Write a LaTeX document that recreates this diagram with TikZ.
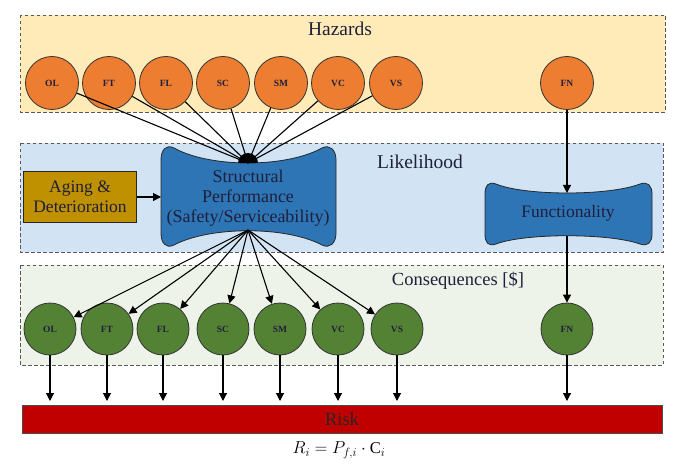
\documentclass[tikz,border=0pt]{standalone}
\usepackage{fontspec}
\setmainfont{Liberation Serif}
\usepackage{amsmath}
\usetikzlibrary{arrows.meta}
\definecolor{hzbg}{HTML}{FFEBB8}
\definecolor{lkbg}{HTML}{D2E3F3}
\definecolor{csbg}{HTML}{EEF3E9}
\definecolor{orangeC}{HTML}{ED7D31}
\definecolor{greenC}{HTML}{548235}
\definecolor{blueS}{HTML}{2E75B6}
\definecolor{agingC}{HTML}{BF9000}
\definecolor{riskC}{HTML}{C00000}
\definecolor{txtC}{HTML}{1F1F3A}
\tikzset{
  zone/.style={draw=black!65, line width=0.8pt, dash pattern=on 3.5pt off 2.5pt},
  hz/.style={circle, draw=black!80, line width=0.8pt, fill=orangeC, minimum size=53pt, inner sep=0pt, font=\fontsize{9.5}{10}\selectfont\bfseries, text=txtC},
  cs/.style={circle, draw=black!80, line width=0.8pt, fill=greenC, minimum size=52pt, inner sep=0pt, font=\fontsize{9.5}{10}\selectfont\bfseries, text=txtC},
  arr/.style={-{Triangle[length=8pt,width=8pt]}, line width=1.1pt},
  ln/.style={line width=1.1pt},
  title/.style={font=\fontsize{19.5}{22}\selectfont, text=txtC},
  shapetxt/.style={font=\fontsize{18}{20}\selectfont, text=txtC, align=center},
}
\begin{document}
\begin{tikzpicture}[x=1pt,y=-1pt]
\useasboundingbox (0,0) rectangle (676,470);
% zones
\fill[hzbg] (20,15) rectangle (665,112);
\draw[zone] (20,15) rectangle (665,112);
\fill[lkbg] (20,143) rectangle (663,252);
\draw[zone] (20,143) rectangle (663,252);
\fill[csbg] (20,265) rectangle (663,365);
\draw[zone] (20,265) rectangle (663,365);
\node[title] (tHaz) at (340,29) {Hazards};
\node[title] (tLik) at (420,162) {Likelihood};
\node[font=\fontsize{18.5}{22}\selectfont, text=txtC] (tCons) at (458,281) {Consequences [\$]};
% hazard circles
\node[hz] (hOL) at (52,83) {OL};
\node[hz] (hFT) at (109,83) {FT};
\node[hz] (hFL) at (166,83) {FL};
\node[hz] (hSC) at (223,83) {SC};
\node[hz] (hSM) at (281,83) {SM};
\node[hz] (hVC) at (338,83) {VC};
\node[hz] (hVS) at (396,83) {VS};
\node[hz] (hFN) at (567,83) {FN};
% structural performance shape
\draw[fill=blueS, draw=black!85, line width=0.8pt]
  (174,148) .. controls (210,168) and (286,168) .. (322,148)
  .. controls (330,144) and (336,150) .. (336,160)
  -- (336,233)
  .. controls (336,243) and (330,249) .. (322,245)
  .. controls (286,226) and (210,226) .. (174,245)
  .. controls (166,249) and (161,243) .. (161,233)
  -- (161,160)
  .. controls (161,150) and (166,144) .. (174,148) -- cycle;
\coordinate (spT) at (248,163);
\coordinate (spB) at (248,230);
\coordinate (spL) at (161,197);
\node[shapetxt] (spTxt) at (248,198) {Structural\\Performance\\(Safety/Serviceability)};
% functionality shape
\draw[fill=blueS, draw=black!85, line width=0.8pt]
  (496,184) .. controls (525,196) and (609,196) .. (640,184)
  .. controls (648,181) and (652,186) .. (652,194)
  -- (652,234)
  .. controls (652,242) and (648,247) .. (640,244)
  .. controls (609,233) and (525,233) .. (496,244)
  .. controls (488,247) and (485,242) .. (485,234)
  -- (485,194)
  .. controls (485,186) and (488,181) .. (496,184) -- cycle;
\coordinate (fnT) at (567,193);
\coordinate (fnB) at (567,236);
\node[font=\fontsize{17.5}{20}\selectfont, text=txtC] (fnTxt) at (568,213) {Functionality};
% aging box
\node[draw=black!85, line width=0.8pt, fill=agingC, minimum width=113pt, minimum height=51pt, shapetxt, font=\fontsize{17.5}{20}\selectfont, inner sep=2pt] (aging) at (80,197) {Aging \&\\Deterioration};
\draw[arr] (aging.east) -- (spL);
% hazard lines
\foreach \h in {hOL,hFT,hFL,hSC,hSM,hVC,hVS}{
  \draw[ln] (\h) -- (spT);
}
\fill[black] (238,163) arc[start angle=180, end angle=0, radius=10pt] -- cycle;
\draw[arr] (hFN) -- (fnT);
% consequence circles
\node[cs] (cOL) at (50,329) {OL};
\node[cs] (cFT) at (107,329) {FT};
\node[cs] (cFL) at (163,329) {FL};
\node[cs] (cSC) at (223,329) {SC};
\node[cs] (cSM) at (280,329) {SM};
\node[cs] (cVC) at (338,329) {VC};
\node[cs] (cVS) at (397,329) {VS};
\node[cs] (cFN) at (567,329) {FN};
\foreach \c in {cOL,cFT,cFL,cSC,cSM,cVC,cVS}{
  \draw[arr] (spB) -- (\c);
}
\draw[arr] (fnB) -- (cFN);
% risk bar
\node[draw=black!70, line width=0.6pt, fill=riskC, minimum width=640pt, minimum height=28pt, inner sep=0pt, font=\fontsize{18.5}{20}\selectfont, text=black!85] (risk) at (342,419) {Risk};
\foreach \c/\x in {cOL/50,cFT/107,cFL/163,cSC/223,cSM/280,cVC/338,cVS/397,cFN/567}{
  \coordinate (e\c) at (\x,401);
  \draw[arr] (\c) -- (e\c);
}
\node[font=\fontsize{16.5}{18}\selectfont] (formula) at (339,450) {$R_i = P_{f,i}\cdot \mathrm{C}_i$};
\end{tikzpicture}
\end{document}
